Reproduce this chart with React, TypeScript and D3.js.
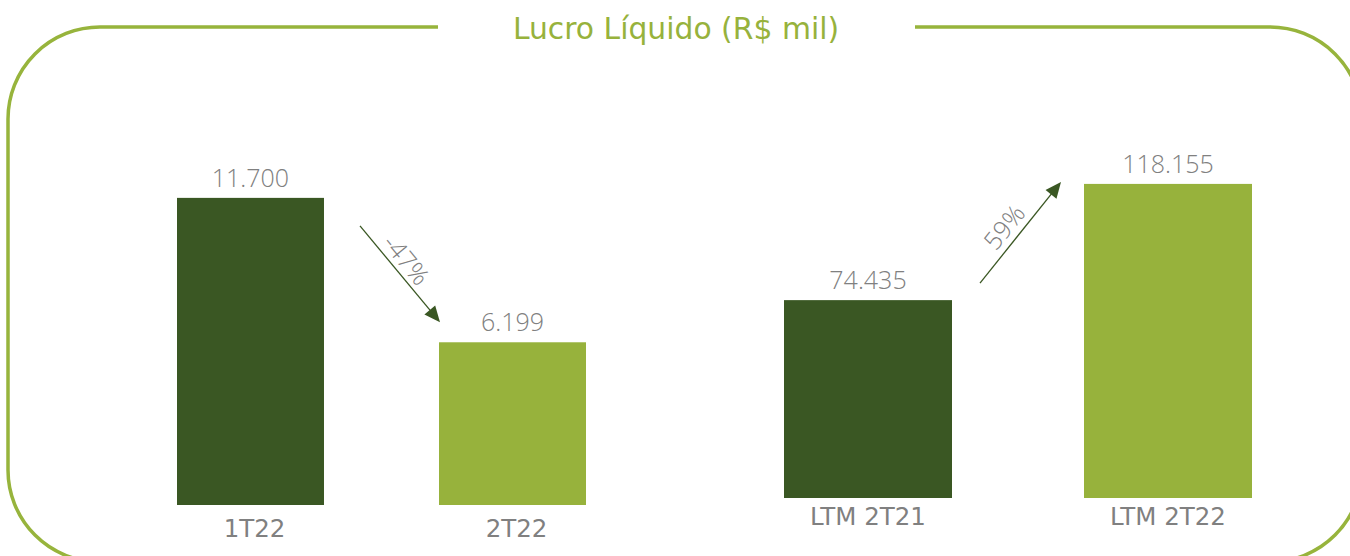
import React from "react";
import * as d3 from "d3";

const leftCategories = ["1T22", "2T22"];
const leftValues = [11700, 6199];
const leftLabels = ["11.700", "6.199"];
const rightCategories = ["LTM 2T21", "LTM 2T22"];
const rightValues = [74435, 118155];
const rightLabels = ["74.435", "118.155"];
const changeLabels = ["-47%", "59%"];
const title = "Lucro Líquido (R$ mil)";

const DARK = "#3a5723";
const LIGHT = "#97b23c";
const FRAME = "#97b43c";
const GRAY = "#808080";
const colors = [DARK, LIGHT];

function arrowHead(x1: number, y1: number, x2: number, y2: number, len = 16, half = 7) {
  const a = Math.atan2(y2 - y1, x2 - x1);
  const bx = x2 - len * Math.cos(a);
  const by = y2 - len * Math.sin(a);
  const px = -Math.sin(a) * half;
  const py = Math.cos(a) * half;
  return `M${x2},${y2}L${bx + px},${by + py}L${bx - px},${by - py}Z`;
}

function Arrow({ x1, y1, x2, y2, label, side, along }: any) {
  const a = Math.atan2(y2 - y1, x2 - x1);
  const len = 15;
  const lx2 = x2 - len * 0.7 * Math.cos(a);
  const ly2 = y2 - len * 0.7 * Math.sin(a);
  const mx = (x1 + x2) / 2 + along * Math.cos(a);
  const my = (y1 + y2) / 2 + along * Math.sin(a);
  const nx = -Math.sin(a) * side;
  const ny = Math.cos(a) * side;
  const deg = (a * 180) / Math.PI;
  return (
    <g>
      <line x1={x1} y1={y1} x2={lx2} y2={ly2} stroke={DARK} strokeWidth={1.3} />
      <path d={arrowHead(x1, y1, x2, y2)} fill={DARK} />
      <text
        transform={`translate(${mx + nx},${my + ny}) rotate(${deg})`}
        textAnchor="middle"
        dominantBaseline="central"
        fontFamily="'Open Sans', sans-serif"
        fontWeight={300}
        fontSize={25}
        fill={GRAY}
      >
        {label}
      </text>
    </g>
  );
}

export default function App() {
  const W = 1350;
  const H = 556;

  const xL = d3.scaleBand<string>().domain(leftCategories).range([177, 586]).paddingInner(0.439).paddingOuter(0);
  const yL = d3.scaleLinear().domain([0, 12000]).range([505, 505 - 315]);
  const xR = d3.scaleBand<string>().domain(rightCategories).range([784, 1252]).paddingInner(0.44).paddingOuter(0);
  const yR = d3.scaleLinear().domain([0, 120000]).range([498, 498 - 319]);

  const groups = [
    { cats: leftCategories, vals: leftValues, labels: leftLabels, x: xL, y: yL, catDy: 32 },
    { cats: rightCategories, vals: rightValues, labels: rightLabels, x: xR, y: yR, catDy: 27 },
  ];

  const L = 8, T = 27, R = 1362, B = 562, r = 92;
  const gapL = 438, gapR = 915;
  const frame = d3.path();
  frame.moveTo(gapR, T);
  frame.lineTo(R - r, T);
  frame.arcTo(R, T, R, T + r, r);
  frame.lineTo(R, B - r);
  frame.arcTo(R, B, R - r, B, r);
  frame.lineTo(L + r, B);
  frame.arcTo(L, B, L, B - r, r);
  frame.lineTo(L, T + r);
  frame.arcTo(L, T, L + r, T, r);
  frame.lineTo(gapL, T);

  const l0x = xL(leftCategories[0])! + xL.bandwidth();
  const l1x = xL(leftCategories[1])!;
  const a1 = {
    x1: l0x + 36, y1: yL(leftValues[0]) + 28,
    x2: l1x + 1, y2: yL(leftValues[1]) - 20,
  };
  const r0x = xR(rightCategories[0])! + xR.bandwidth();
  const r1x = xR(rightCategories[1])!;
  const a2 = {
    x1: r0x + 28, y1: yR(rightValues[0]) - 17,
    x2: r1x - 23, y2: yR(rightValues[1]) - 2,
  };

  return (
    <svg width={W} height={H} style={{ position: "absolute", left: 0, top: 0 }}>
      <rect width={W} height={H} fill="#ffffff" />
      <path d={frame.toString()} fill="none" stroke={FRAME} strokeWidth={3.5} />
      <text
        x={676}
        y={38.5}
        textAnchor="middle"
        fontFamily="'DejaVu Sans', Verdana, sans-serif"
        fontSize={29.8}
        fill={LIGHT}
      >
        {title}
      </text>
      {groups.map((g, gi) => (
        <g key={gi}>
          {g.cats.map((c, i) => {
            const x = g.x(c)!;
            const bw = g.x.bandwidth();
            const y0 = g.y(0);
            const y1 = g.y(g.vals[i]);
            return (
              <g key={c}>
                <rect x={x} y={y1} width={bw} height={y0 - y1} fill={colors[i]} />
                <text
                  x={x + bw / 2}
                  y={y1 - 11}
                  textAnchor="middle"
                  fontFamily="'Open Sans', sans-serif"
                  fontWeight={300}
                  fontSize={25}
                  fill={GRAY}
                >
                  {g.labels[i]}
                </text>
                <text
                  x={x + bw / 2 + (gi === 0 ? 4 : 0)}
                  y={y0 + g.catDy}
                  textAnchor="middle"
                  fontFamily="'DejaVu Sans', Verdana, sans-serif"
                  fontSize={24.5}
                  fill={GRAY}
                >
                  {c}
                </text>
              </g>
            );
          })}
        </g>
      ))}
      <Arrow {...a1} label={changeLabels[0]} side={-15} along={-7} />
      <Arrow {...a2} label={changeLabels[1]} side={-17} along={-6} />
    </svg>
  );
}
